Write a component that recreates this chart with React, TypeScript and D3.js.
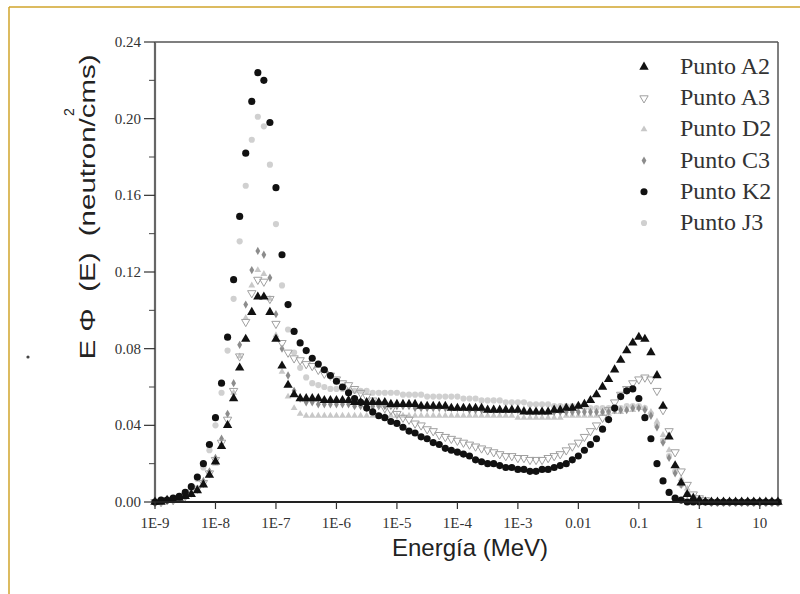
import React from 'react';
import * as d3 from 'd3';

// energy grid: 0.1 decade steps from 1E-9 to 20 MeV (log10 values)
const logGrid = d3.range(104).map(i => Math.round((-9 + i / 10) * 10) / 10);

// E·Φ(E) values, one row per decade
const puntoA2 = [
  0.000, 0.000, 0.001, 0.001, 0.002, 0.003, 0.004, 0.006, 0.009, 0.014,
  0.021, 0.029, 0.040, 0.054, 0.070, 0.085, 0.099, 0.107, 0.107, 0.099,
  0.085, 0.071, 0.061, 0.056, 0.054, 0.054, 0.054, 0.054, 0.053, 0.053,
  0.053, 0.053, 0.053, 0.052, 0.052, 0.052, 0.052, 0.052, 0.052, 0.051,
  0.051, 0.051, 0.051, 0.051, 0.050, 0.050, 0.050, 0.050, 0.050, 0.049,
  0.049, 0.049, 0.049, 0.049, 0.049, 0.048, 0.048, 0.048, 0.048, 0.048,
  0.048, 0.047, 0.047, 0.047, 0.047, 0.047, 0.048, 0.048, 0.049, 0.049,
  0.050, 0.051, 0.053, 0.056, 0.060, 0.064, 0.069, 0.074, 0.079, 0.083,
  0.086, 0.085, 0.078, 0.066, 0.050, 0.034, 0.019, 0.010, 0.004, 0.002,
  0.001, 0.000, 0.000, 0.000, 0.000, 0.000, 0.000, 0.000, 0.000, 0.000,
  0.000, 0.000, 0.000, 0.000,
];

const puntoA3 = [
  0.000, 0.000, 0.001, 0.001, 0.002, 0.003, 0.005, 0.007, 0.010, 0.015,
  0.022, 0.031, 0.043, 0.058, 0.076, 0.094, 0.109, 0.116, 0.115, 0.106,
  0.093, 0.083, 0.078, 0.075, 0.074, 0.072, 0.071, 0.069, 0.067, 0.066,
  0.064, 0.062, 0.061, 0.059, 0.057, 0.055, 0.053, 0.051, 0.049, 0.048,
  0.046, 0.044, 0.043, 0.041, 0.040, 0.038, 0.037, 0.035, 0.034, 0.033,
  0.032, 0.031, 0.030, 0.029, 0.028, 0.027, 0.026, 0.025, 0.024, 0.024,
  0.023, 0.023, 0.022, 0.022, 0.022, 0.023, 0.024, 0.025, 0.027, 0.029,
  0.031, 0.034, 0.037, 0.040, 0.044, 0.048, 0.052, 0.056, 0.059, 0.062,
  0.064, 0.065, 0.064, 0.058, 0.048, 0.037, 0.026, 0.016, 0.009, 0.004,
  0.002, 0.001, 0.000, 0.000, 0.000, 0.000, 0.000, 0.000, 0.000, 0.000,
  0.000, 0.000, 0.000, 0.000,
];

const puntoD2 = [
  0.000, 0.000, 0.001, 0.001, 0.002, 0.003, 0.004, 0.006, 0.009, 0.014,
  0.020, 0.029, 0.041, 0.057, 0.076, 0.096, 0.113, 0.121, 0.119, 0.106,
  0.087, 0.068, 0.055, 0.049, 0.046, 0.045, 0.045, 0.045, 0.045, 0.045,
  0.045, 0.045, 0.045, 0.045, 0.045, 0.045, 0.045, 0.045, 0.045, 0.045,
  0.045, 0.045, 0.045, 0.045, 0.045, 0.045, 0.045, 0.045, 0.045, 0.045,
  0.045, 0.045, 0.045, 0.045, 0.045, 0.045, 0.045, 0.045, 0.045, 0.045,
  0.044, 0.044, 0.044, 0.044, 0.044, 0.044, 0.044, 0.044, 0.045, 0.045,
  0.045, 0.045, 0.045, 0.045, 0.046, 0.046, 0.047, 0.047, 0.048, 0.048,
  0.049, 0.049, 0.047, 0.042, 0.035, 0.027, 0.019, 0.012, 0.007, 0.003,
  0.001, 0.000, 0.000, 0.000, 0.000, 0.000, 0.000, 0.000, 0.000, 0.000,
  0.000, 0.000, 0.000, 0.000,
];

const puntoC3 = [
  0.000, 0.000, 0.001, 0.001, 0.002, 0.003, 0.005, 0.007, 0.011, 0.016,
  0.023, 0.033, 0.046, 0.062, 0.082, 0.103, 0.121, 0.131, 0.129, 0.117,
  0.098, 0.080, 0.066, 0.058, 0.054, 0.052, 0.052, 0.051, 0.051, 0.051,
  0.051, 0.051, 0.051, 0.050, 0.050, 0.050, 0.050, 0.050, 0.050, 0.050,
  0.050, 0.050, 0.050, 0.049, 0.049, 0.049, 0.049, 0.049, 0.049, 0.049,
  0.049, 0.049, 0.048, 0.048, 0.048, 0.048, 0.048, 0.048, 0.048, 0.048,
  0.048, 0.048, 0.047, 0.047, 0.047, 0.047, 0.047, 0.047, 0.047, 0.047,
  0.047, 0.047, 0.047, 0.047, 0.047, 0.047, 0.048, 0.048, 0.048, 0.049,
  0.049, 0.048, 0.045, 0.039, 0.031, 0.023, 0.015, 0.009, 0.004, 0.002,
  0.001, 0.000, 0.000, 0.000, 0.000, 0.000, 0.000, 0.000, 0.000, 0.000,
  0.000, 0.000, 0.000, 0.000,
];

const puntoK2 = [
  0.000, 0.001, 0.001, 0.002, 0.003, 0.005, 0.008, 0.013, 0.020, 0.030,
  0.044, 0.062, 0.086, 0.116, 0.149, 0.182, 0.209, 0.224, 0.220, 0.198,
  0.164, 0.129, 0.103, 0.089, 0.083, 0.079, 0.075, 0.072, 0.069, 0.066,
  0.063, 0.060, 0.057, 0.054, 0.052, 0.049, 0.047, 0.045, 0.044, 0.042,
  0.041, 0.039, 0.037, 0.036, 0.034, 0.033, 0.031, 0.030, 0.028, 0.027,
  0.026, 0.025, 0.024, 0.022, 0.021, 0.020, 0.020, 0.019, 0.018, 0.018,
  0.017, 0.017, 0.016, 0.016, 0.017, 0.017, 0.018, 0.019, 0.020, 0.022,
  0.024, 0.027, 0.030, 0.033, 0.038, 0.043, 0.049, 0.055, 0.058, 0.059,
  0.054, 0.044, 0.033, 0.020, 0.011, 0.005, 0.002, 0.001, 0.000, 0.000,
  0.000, 0.000, 0.000, 0.000, 0.000, 0.000, 0.000, 0.000, 0.000, 0.000,
  0.000, 0.000, 0.000, 0.000,
];

const puntoJ3 = [
  0.000, 0.001, 0.001, 0.002, 0.003, 0.005, 0.008, 0.012, 0.018, 0.027,
  0.040, 0.057, 0.079, 0.106, 0.136, 0.165, 0.189, 0.201, 0.196, 0.176,
  0.145, 0.113, 0.090, 0.078, 0.070, 0.065, 0.062, 0.061, 0.060, 0.059,
  0.059, 0.059, 0.058, 0.058, 0.058, 0.058, 0.057, 0.057, 0.057, 0.057,
  0.057, 0.056, 0.056, 0.056, 0.056, 0.055, 0.055, 0.055, 0.055, 0.055,
  0.055, 0.054, 0.054, 0.054, 0.053, 0.053, 0.053, 0.053, 0.052, 0.052,
  0.052, 0.052, 0.051, 0.051, 0.051, 0.051, 0.050, 0.050, 0.050, 0.050,
  0.050, 0.049, 0.049, 0.049, 0.049, 0.049, 0.049, 0.049, 0.050, 0.050,
  0.050, 0.049, 0.046, 0.040, 0.032, 0.024, 0.016, 0.009, 0.004, 0.002,
  0.001, 0.000, 0.000, 0.000, 0.000, 0.000, 0.000, 0.000, 0.000, 0.000,
  0.000, 0.000, 0.000, 0.000,
];

const xTickValues = [1e-9, 1e-8, 1e-7, 1e-6, 1e-5, 1e-4, 1e-3, 0.01, 0.1, 1, 10];
const xTickLabels = ['1E-9', '1E-8', '1E-7', '1E-6', '1E-5', '1E-4', '1E-3', '0.01', '0.1', '1', '10'];
const yTickValues = [0, 0.04, 0.08, 0.12, 0.16, 0.2, 0.24];
const yTickLabels = ['0.00', '0.04', '0.08', '0.12', '0.16', '0.20', '0.24'];

// legend order, top to bottom
const series = [
  { name: 'Punto A2', values: puntoA2, shape: 'tri', fill: '#111', stroke: 'none', size: 38 },
  { name: 'Punto A3', values: puntoA3, shape: 'triDown', fill: 'none', stroke: '#a0a0a0', size: 30 },
  { name: 'Punto D2', values: puntoD2, shape: 'tri', fill: '#c8c8c8', stroke: 'none', size: 20 },
  { name: 'Punto C3', values: puntoC3, shape: 'diamond', fill: '#8c8c8c', stroke: 'none', size: 20 },
  { name: 'Punto K2', values: puntoK2, shape: 'circle', fill: '#111', stroke: 'none', size: 40 },
  { name: 'Punto J3', values: puntoJ3, shape: 'circle', fill: '#d0d0d0', stroke: 'none', size: 30 },
];
const drawOrder = ['Punto J3', 'Punto D2', 'Punto C3', 'Punto A3', 'Punto A2', 'Punto K2'];

const W = 800;
const H = 594;
const plot = { left: 155, right: 778, top: 42, bottom: 502 };

const symbolPath = (shape: string, size: number) => {
  const type = shape === 'circle' ? d3.symbolCircle
    : shape === 'diamond' ? d3.symbolDiamond
    : d3.symbolTriangle;
  return d3.symbol().type(type).size(size)() as string;
};

export default function App() {
  const x = d3.scaleLog().domain([1e-9, 20]).range([plot.left, plot.right]);
  const y = d3.scaleLinear().domain([0, 0.24]).range([plot.bottom, plot.top]);

  const minorX = x.ticks().filter(t => !xTickValues.some(v => Math.abs(v - t) / v < 1e-6));
  const minorY = d3.range(0.02, 0.24, 0.04);

  const serif = "'Liberation Serif', 'Times New Roman', serif";
  const sans = "'Liberation Sans', Arial, sans-serif";

  return (
    <svg width={W} height={H} style={{ position: 'absolute', left: 0, top: 0, background: '#fff' }}>
      {/* page frame */}
      <line x1={9} y1={7} x2={W} y2={7} stroke="#d1a52b" strokeWidth={1.5} />
      <line x1={9} y1={7} x2={9} y2={H} stroke="#d1a52b" strokeWidth={1.5} />
      <circle cx={28} cy={357} r={1.6} fill="#444" />

      {/* plot frame */}
      <line x1={plot.left} y1={plot.top} x2={plot.right} y2={plot.top} stroke="#555" strokeWidth={1.5} />
      <line x1={plot.right} y1={plot.top} x2={plot.right} y2={plot.bottom} stroke="#555" strokeWidth={1.5} />
      <line x1={plot.left} y1={plot.top} x2={plot.left} y2={plot.bottom} stroke="#666" strokeWidth={2.2} />

      {/* series */}
      {drawOrder.map(n => {
        const s = series.find(d => d.name === n)!;
        const p = symbolPath(s.shape, s.size);
        return (
          <g key={n}>
            {s.values.map((v, i) => (
              <path
                key={i}
                d={p}
                transform={`translate(${x(Math.pow(10, logGrid[i]))},${y(v)})${s.shape === 'triDown' ? ' rotate(180)' : ''}`}
                fill={s.fill}
                stroke={s.stroke}
                strokeWidth={1}
              />
            ))}
          </g>
        );
      })}

      <line x1={plot.left} y1={plot.bottom} x2={plot.right} y2={plot.bottom} stroke="#222" strokeWidth={2} />

      {/* x axis */}
      {minorX.map((t, i) => (
        <line key={'mx' + i} x1={x(t)} x2={x(t)} y1={plot.bottom} y2={plot.bottom + 4} stroke="#444" strokeWidth={1} />
      ))}
      {xTickValues.map((t, i) => (
        <g key={'x' + i}>
          <line x1={x(t)} x2={x(t)} y1={plot.bottom} y2={plot.bottom + 7} stroke="#333" strokeWidth={1.2} />
          <text x={x(t)} y={plot.bottom + 26} textAnchor="middle" fontFamily={serif} fontSize={15} fill="#333">
            {xTickLabels[i]}
          </text>
        </g>
      ))}

      {/* y axis */}
      {minorY.map((t, i) => (
        <line key={'my' + i} x1={plot.left - 6} x2={plot.left} y1={y(t)} y2={y(t)} stroke="#444" strokeWidth={1} />
      ))}
      {yTickValues.map((t, i) => (
        <g key={'y' + i}>
          <line x1={plot.left - 11} x2={plot.left} y1={y(t)} y2={y(t)} stroke="#333" strokeWidth={1.2} />
          <text x={plot.left - 14} y={y(t) + 5} textAnchor="end" fontFamily={serif} fontSize={15} fill="#333">
            {yTickLabels[i]}
          </text>
        </g>
      ))}

      {/* axis titles */}
      <text x={470} y={556} textAnchor="middle" fontFamily={sans} fontSize={24} fill="#222">
        Energía (MeV)
      </text>
      <text
        transform="translate(95,207) rotate(-90)"
        textAnchor="middle"
        fontFamily={sans}
        fontSize={22}
        fill="#222"
        textLength={305}
        lengthAdjust="spacingAndGlyphs"
        style={{ whiteSpace: 'pre' }}
      >
        {'E Φ  (E)  (neutron/cms)'}
      </text>
      <text transform="translate(74,112) rotate(-90)" textAnchor="middle" fontFamily={sans} fontSize={14} fill="#222">
        2
      </text>

      {/* legend */}
      {series.map((s, i) => {
        const cy = 67 + i * 31.2;
        return (
          <g key={'lg' + i}>
            <path
              d={symbolPath(s.shape, s.size)}
              transform={`translate(644,${cy})${s.shape === 'triDown' ? ' rotate(180)' : ''}`}
              fill={s.fill}
              stroke={s.stroke}
            />
            <text x={680} y={cy + 7} fontFamily={serif} fontSize={24} fill="#333">
              {s.name}
            </text>
          </g>
        );
      })}
    </svg>
  );
}
